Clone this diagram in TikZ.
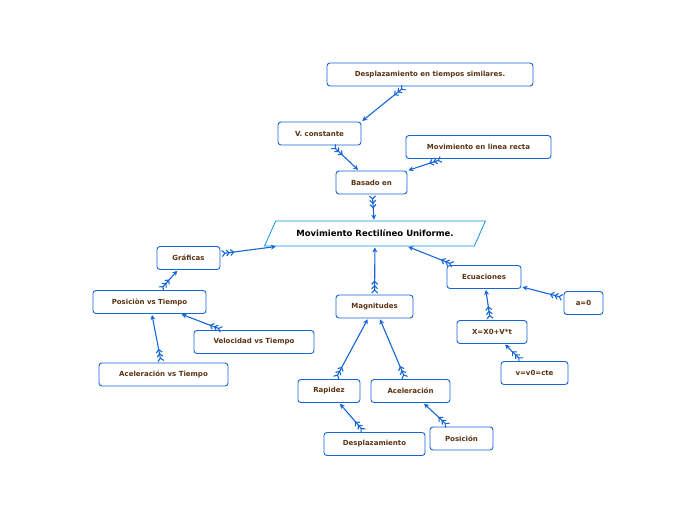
\documentclass[tikz,border=0pt]{standalone}
\usepackage{fontspec}
\setmainfont{DejaVu Sans}
\usetikzlibrary{shapes.geometric,arrows.meta}
\definecolor{bl}{HTML}{1565D8}
\definecolor{tx}{HTML}{5A3212}
\begin{document}
\begin{tikzpicture}[x=1pt,y=-1pt,
  box/.style={draw=bl,line width=0.9pt,rounded corners=3pt,fill=white,text=tx,font=\bfseries\fontsize{7}{8}\selectfont,minimum height=23pt,inner sep=3pt},
  lnk/.style={draw=bl,line width=1.1pt,{Straight Barb[reversed,length=3pt,width=6pt]Straight Barb[reversed,length=3pt,width=6pt]Straight Barb[reversed,length=3pt,width=6pt]}-{Stealth[length=5pt,width=5pt]},shorten <=1pt,shorten >=1pt}]
\useasboundingbox (0,0) rectangle (697,520);
\node[draw=bl!70!cyan,line width=0.8pt,fill=white,trapezium,trapezium stretches=true,trapezium left angle=56,trapezium right angle=124,minimum width=221pt,minimum height=25pt,font=\bfseries\fontsize{8.5}{10}\selectfont] (main) at (375,233.5) {Movimiento Rectilíneo Uniforme.};
\node[box,minimum width=206pt] (ds) at (430,74.5) {Desplazamiento en tiempos similares.};
\node[box,minimum width=83pt] (vc) at (319.5,133.5) {V. constante};
\node[box,minimum width=145pt] (ml) at (478.5,147) {Movimiento en linea recta};
\node[box,minimum width=71pt] (be) at (371.5,182.5) {Basado en};
\node[box,minimum width=63pt] (gr) at (188.5,258) {Gráficas};
\node[box,minimum width=113pt] (pt) at (149.5,302) {Posiciòn vs Tiempo};
\node[box,minimum width=120pt] (vt) at (254,342) {Velocidad vs Tiempo};
\node[box,minimum width=129pt] (at) at (163.5,374.5) {Aceleración vs Tiempo};
\node[box,minimum width=77pt] (mg) at (374.5,306.5) {Magnitudes};
\node[box,minimum width=62pt] (rp) at (329,391) {Rapidez};
\node[box,minimum width=79pt] (ac) at (410.5,391) {Aceleración};
\node[box,minimum width=101pt] (de) at (374.5,444) {Desplazamiento};
\node[box,minimum width=63pt] (po) at (461.5,438.5) {Posición};
\node[box,minimum width=74pt] (ec) at (484,277) {Ecuaciones};
\node[box,minimum width=39pt] (a0) at (583.5,303) {a=0};
\node[box,minimum width=70pt] (xx) at (492,332) {X=X0+V*t};
\node[box,minimum width=67pt] (vv) at (534.5,373) {v=v0=cte};
\draw[lnk] (ds.south) ++(-25,0) coordinate (c1) (c1) -- (vc.north east);
\draw[lnk] (vc) -- (be);
\draw[lnk] (ml) -- (be);
\draw[lnk] (be) -- (main);
\draw[lnk] (gr) -- (main);
\draw[lnk] (pt) -- (gr);
\draw[lnk] (vt) -- (pt);
\draw[lnk] (at) -- (pt);
\draw[lnk] (mg) -- (main);
\draw[lnk] (rp) -- (mg);
\draw[lnk] (ac) -- (mg);
\draw[lnk] (de) -- (rp);
\draw[lnk] (po) -- (ac);
\draw[lnk] (ec) -- (main);
\draw[lnk] (a0) -- (ec);
\draw[lnk] (xx) -- (ec);
\draw[lnk] (vv) -- (xx);
\end{tikzpicture}
\end{document}
